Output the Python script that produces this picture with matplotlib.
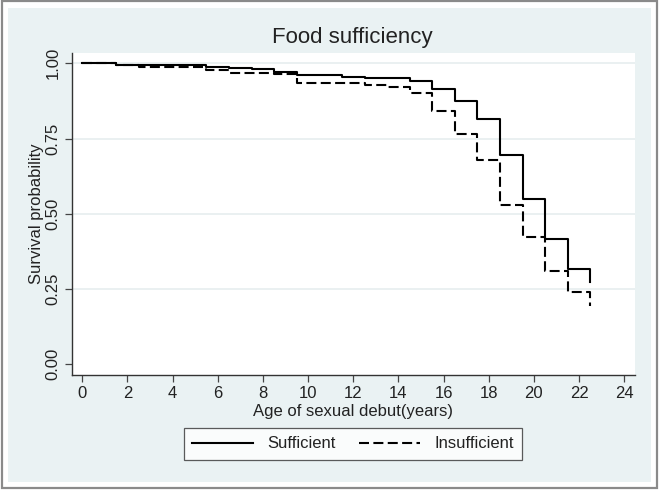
import matplotlib
matplotlib.use("Agg")
import matplotlib.pyplot as plt
from matplotlib.patches import Rectangle

plt.rcParams['font.family'] = ['Liberation Sans', 'DejaVu Sans']

title = "Food sufficiency"
xlabel = "Age of sexual debut(years)"
ylabel = "Survival probability"
series_names = ["Sufficient", "Insufficient"]

suff_t = [0, 1.5, 5.5, 6.5, 7.5, 8.5, 9.5, 11.5, 12.5, 14.5, 15.5, 16.5, 17.5, 18.5, 19.5, 20.5, 21.5, 22.5]
suff_s = [1.000, 0.993, 0.989, 0.984, 0.980, 0.972, 0.962, 0.956, 0.950, 0.942, 0.916, 0.876, 0.815, 0.694, 0.550, 0.416, 0.316, 0.272]

insuff_t = [0, 1.5, 2.5, 5.5, 6.5, 8.5, 9.5, 12.5, 13.5, 14.5, 15.5, 16.5, 17.5, 18.5, 19.5, 20.5, 21.5, 22.5]
insuff_s = [1.000, 0.993, 0.987, 0.978, 0.969, 0.964, 0.936, 0.929, 0.921, 0.902, 0.840, 0.766, 0.678, 0.530, 0.421, 0.308, 0.240, 0.192]

xticks = list(range(0, 25, 2))
yticks = [0.0, 0.25, 0.5, 0.75, 1.0]
ytick_labels = ["0.00", "0.25", "0.50", "0.75", "1.00"]

W, H = 660, 491
fig = plt.figure(figsize=(W / 100, H / 100), dpi=100)
fig.patch.set_facecolor('white')

# outer frame and panel
fig.patches.append(Rectangle((2 / W, 1 - 488 / H), 655 / W, 487 / H, transform=fig.transFigure,
                             facecolor='white', edgecolor='#8a8a8a', lw=1.6, zorder=0))
fig.patches.append(Rectangle((8 / W, 1 - 482 / H), 643 / W, 474 / H, transform=fig.transFigure,
                             facecolor='#EAF2F3', edgecolor='none', zorder=0.5))

left, right, top, bottom = 71.7, 635, 53.3, 374.7
ax = fig.add_axes([left / W, 1 - bottom / H, (right - left) / W, (bottom - top) / H])
ax.set_zorder(2)
ax.set_facecolor('white')

ax.step(suff_t, suff_s, where='post', color='black', lw=1.5, label=series_names[0], zorder=3)
ax.step(insuff_t, insuff_s, where='post', color='black', lw=1.5, linestyle=(0, (4.8, 2.1)),
        label=series_names[1], zorder=3)

ax.set_xlim(-0.47, 24.48)
ax.set_ylim(-0.035, 1.0332)

for yv in yticks[1:]:
    ax.axhline(yv, color='#E6EEEF', lw=1.2, zorder=1)

for s in ['top', 'right']:
    ax.spines[s].set_visible(False)
for s in ['left', 'bottom']:
    ax.spines[s].set_color('#333333')
    ax.spines[s].set_linewidth(1.0)

fs = 12
ax.set_xticks(xticks)
ax.set_xticklabels([str(v) for v in xticks], fontsize=fs, color='#222222')
ax.set_yticks(yticks)
ax.set_yticklabels(ytick_labels, fontsize=fs, color='#222222', rotation=90, va='center')
ax.tick_params(axis='both', length=5, width=0.9, color='#444444', pad=3)

ax.set_xlabel(xlabel, fontsize=fs, color='#222222', labelpad=2.5)
ax.set_ylabel(ylabel, fontsize=fs, color='#222222', labelpad=1)
fig.text(352 / W, 1 - 38 / H, title, ha='center', va='center', fontsize=16, color='#222222', zorder=3)

leg = fig.legend(loc='center', bbox_to_anchor=(353 / W, 1 - 444 / H), ncol=2, fontsize=fs,
                 frameon=True, fancybox=False, handlelength=3.65, handletextpad=0.85,
                 columnspacing=1.4, borderpad=0.5)
leg.set_zorder(4)
leg.get_frame().set_edgecolor('#333333')
leg.get_frame().set_linewidth(0.9)
for t in leg.get_texts():
    t.set_color('#222222')

fig.savefig('out.png', dpi=100)
